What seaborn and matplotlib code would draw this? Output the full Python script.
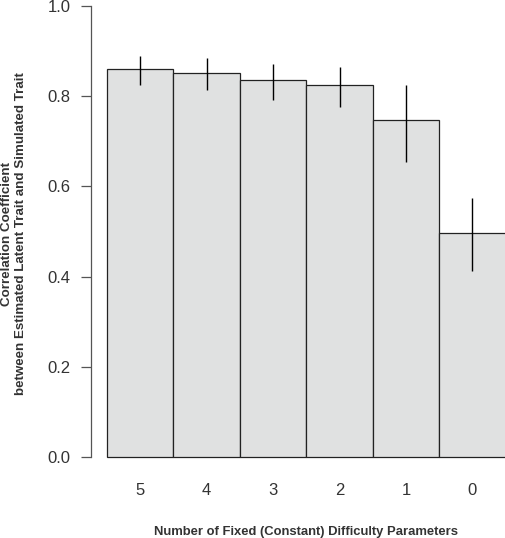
import numpy as np
import pandas as pd
import seaborn as sns
import matplotlib
matplotlib.use("Agg")
import matplotlib.pyplot as plt

# values
n_fixed = ["5", "4", "3", "2", "1", "0"]
mean_r = [0.860, 0.851, 0.836, 0.825, 0.748, 0.497]
lower_r = [0.825, 0.814, 0.792, 0.776, 0.655, 0.412]
upper_r = [0.889, 0.885, 0.871, 0.865, 0.825, 0.575]
y_ticks = [0.0, 0.2, 0.4, 0.6, 0.8, 1.0]

df = pd.DataFrame({"n_fixed": n_fixed, "r": mean_r})

sns.set_style("white")
plt.rcParams["font.family"] = ["Liberation Sans", "DejaVu Sans"]

W, H = 506, 538
fig = plt.figure(figsize=(W / 100, H / 100), dpi=100)
ax = fig.add_axes([91 / W, (H - 475) / H, (W - 91) / W, 473.5 / H])

sns.barplot(data=df, x="n_fixed", y="r", order=n_fixed, color="#e0e1e1",
            saturation=1, width=1, edgecolor="#222222", linewidth=0.9,
            errorbar=None, ax=ax)

# error bars from the lower / upper bounds
ax.vlines(np.arange(len(n_fixed)), lower_r, upper_r, color="black", lw=1)

ax.set_xlim(-0.74, 5.505)
ax.set_ylim(-0.04, 1.01)
ax.set_yticks(y_ticks)
ax.set_yticklabels([f"{t:.1f}" for t in y_ticks])

for side in ["top", "right", "bottom"]:
    ax.spines[side].set_visible(False)
ax.spines["left"].set_bounds(0, 1)
ax.spines["left"].set_color("#555555")
ax.spines["left"].set_linewidth(0.9)

ax.tick_params(axis="y", length=7.2, width=0.9, color="#555555", pad=7.5,
               labelsize=12, labelcolor="#333333", left=True)
ax.tick_params(axis="x", length=0, pad=6, labelsize=12, labelcolor="#333333")

ax.set_ylabel("Correlation Coefficient\nbetween Estimated Latent Trait and Simulated Trait",
              fontsize=9.6, fontweight="bold", color="#333333", multialignment="center")
ax.yaxis.label.set_va("center")
ax.yaxis.set_label_coords(-0.185, 0.51)

ax.set_xlabel("Number of Fixed (Constant) Difficulty Parameters",
              fontsize=9.4, fontweight="bold", color="#333333")
ax.xaxis.label.set_va("center")
ax.xaxis.set_label_coords(0.518, -0.120)

fig.savefig("out.png", dpi=100)
